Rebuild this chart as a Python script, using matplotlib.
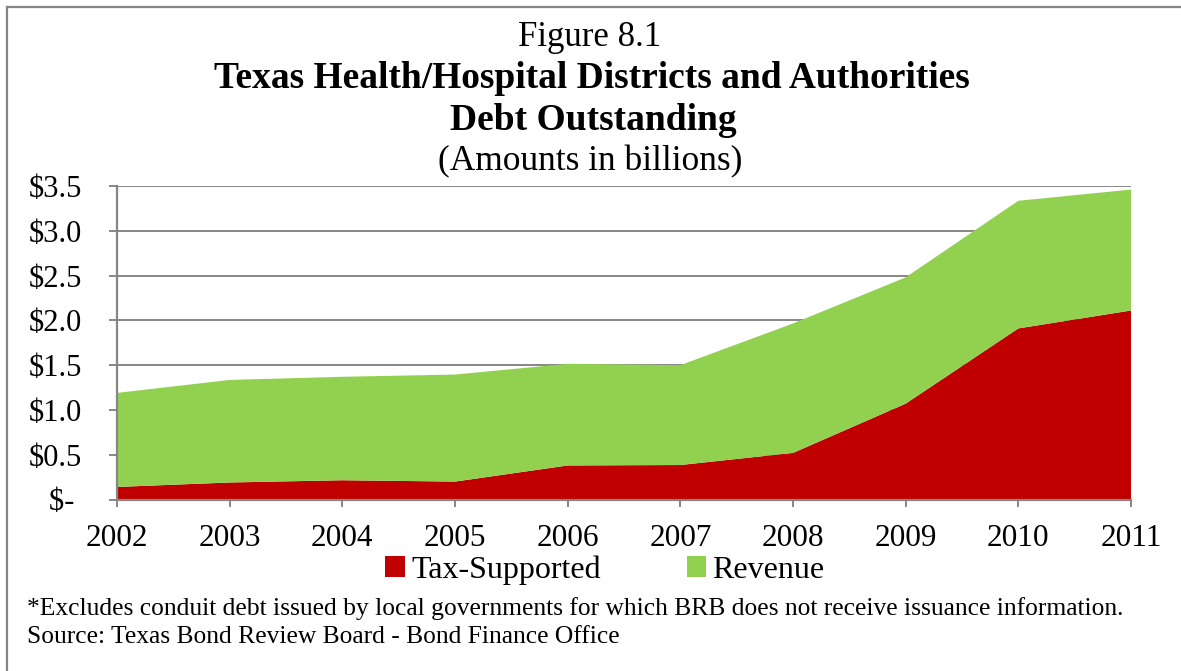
import matplotlib
matplotlib.use("Agg")
import matplotlib.pyplot as plt
from matplotlib.lines import Line2D

years = [2002, 2003, 2004, 2005, 2006, 2007, 2008, 2009, 2010, 2011]
tax_supported = [0.14, 0.19, 0.215, 0.20, 0.38, 0.385, 0.52, 1.07, 1.91, 2.11]
revenue = [1.05, 1.145, 1.155, 1.195, 1.135, 1.115, 1.445, 1.41, 1.425, 1.35]
y_ticks = [0, 0.5, 1.0, 1.5, 2.0, 2.5, 3.0, 3.5]
y_tick_labels = ["$- ", "$0.5", "$1.0", "$1.5", "$2.0", "$2.5", "$3.0", "$3.5"]
series_labels = ["Tax-Supported", "Revenue"]
colors = ["#C00000", "#92D050"]

plt.rcParams['font.family'] = ['Liberation Serif', 'DejaVu Serif']
W, H = 1181, 671
fig = plt.figure(figsize=(W / 100, H / 100), dpi=100)
ax = fig.add_axes([117 / W, 1 - 499.5 / H, (1131 - 117) / W, (499.5 - 186) / H])

ax.stackplot(years, tax_supported, revenue, colors=colors, labels=series_labels,
             linewidth=0, zorder=2)
ax.set_xlim(years[0], years[-1])
ax.set_ylim(0, 3.5)
ax.set_xticks(years)
ax.set_xticklabels([str(y) for y in years])
ax.set_yticks(y_ticks)
ax.set_yticklabels(y_tick_labels)
gray = "#868686"
ax.grid(axis='y', color=gray, linewidth=1.4, zorder=0)
ax.set_axisbelow(True)
for s in ['top', 'right']:
    ax.spines[s].set_visible(False)
for s in ['left', 'bottom']:
    ax.spines[s].set_color(gray)
    ax.spines[s].set_linewidth(1.6)
    ax.spines[s].set_zorder(3)
ax.tick_params(axis='y', direction='out', length=6, width=1.4, color=gray,
               labelsize=22, pad=19)
ax.tick_params(axis='x', direction='out', length=5, width=1.4, color=gray,
               labelsize=22.5, pad=13)

fig.text(590 / W, 1 - 38 / H, "Figure 8.1", ha='center', va='center', fontsize=25)
fig.text(592 / W, 1 - 78 / H, "Texas Health/Hospital Districts and Authorities",
         ha='center', va='center', fontsize=27, fontweight='bold')
fig.text(593 / W, 1 - 120 / H, "Debt Outstanding", ha='center', va='center',
         fontsize=27, fontweight='bold')
fig.text(590 / W, 1 - 162 / H, "(Amounts in billions)", ha='center', va='center',
         fontsize=25.5)

handles, labels = ax.get_legend_handles_labels()
fig.legend(handles, labels, loc='center', bbox_to_anchor=(605 / W, 1 - 570 / H),
           ncol=2, frameon=False, fontsize=23, handlelength=0.6, handleheight=0.6,
           handletextpad=0.2, columnspacing=2.7)

fig.text(27 / W, 1 - 609 / H,
         "*Excludes conduit debt issued by local governments for which BRB does not receive issuance information.",
         ha='left', va='center', fontsize=18.4)
fig.text(27 / W, 1 - 637 / H, "Source: Texas Bond Review Board - Bond Finance Office",
         ha='left', va='center', fontsize=18.4)

fig.add_artist(Line2D([7 / W, 7 / W], [1 - 7 / H, 0], transform=fig.transFigure,
                      color=gray, linewidth=1.6))
fig.add_artist(Line2D([7 / W, 1], [1 - 7 / H, 1 - 7 / H], transform=fig.transFigure,
                      color=gray, linewidth=1.6))

fig.savefig("out.png", dpi=100)
